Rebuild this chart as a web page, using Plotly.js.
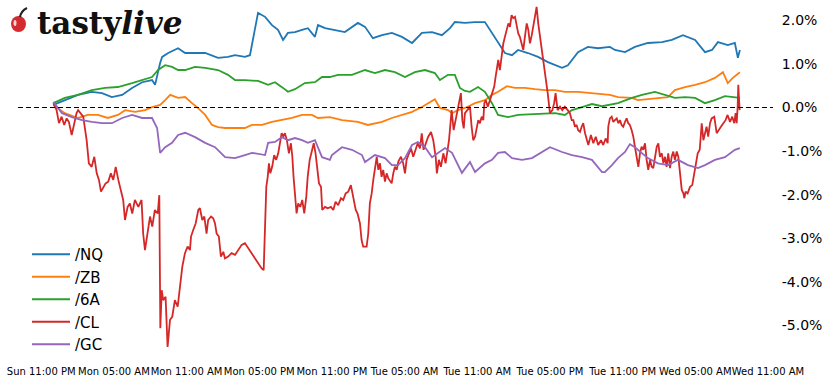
<!DOCTYPE html>
<html><head><meta charset="utf-8">
<script src="https://cdn.plot.ly/plotly-3.0.1.min.js"></script>
<style>html,body{margin:0;padding:0;background:#fff;} #chart{width:823px;height:382px;}</style>
</head><body><div id="chart"></div>
<script>
// time axis: minutes since Mon 00:00
const START_UTC = Date.UTC(2024, 2, 4, 0, 0, 0);
function t(m){ return new Date(START_UTC + m*60000).toISOString().slice(0,19).replace('T',' '); }

const SERIES_NAMES = ['/NQ','/ZB','/6A','/CL','/GC'];
const SERIES_COLORS = ['#1f77b4','#ff7f0e','#2ca02c','#d62728','#9467bd'];

const X_TICK_LABELS = ['Sun 11:00 PM','Mon 05:00 AM','Mon 11:00 AM','Mon 05:00 PM','Mon 11:00 PM','Tue 05:00 AM','Tue 11:00 AM','Tue 05:00 PM','Tue 11:00 PM','Wed 05:00 AM','Wed 11:00 AM'];
const X_TICK_MIN = [-60,300,660,1020,1380,1740,2100,2460,2820,3180,3540];
const Y_TICKS = [-5,-4,-3,-2,-1,0,1,2];
const Y_TICK_TEXT = ['-5.0%','-4.0%','-3.0%','-2.0%','-1.0%','0.0%','1.0%','2.0%'];

const NQ_MIN = [0,57,122,191,241,290,341,390,440,489,504,529,539,569,618,653,752,816,865,900,949,974,1014,1049,1083,1113,1138,1162,1197,1232,1261,1296,1311,1346,1395,1444,1509,1544,1583,1628,1677,1727,1777,1826,1876,1925,1965,1989,2039,2089,2138,2173,2203,2237,2272,2302,2351,2401,2450,2520,2549,2599,2648,2698,2757,2782,2832,2881,2945,3015,3064,3119,3179,3228,3263,3292,3341,3376,3391,3401];
const NQ_VAL = [0.06,0.17,0.29,0.36,0.33,0.24,0.29,0.45,0.58,0.63,0.52,1.02,1.16,1.25,1.36,1.25,1.25,1.14,1.16,1.20,1.16,1.20,2.17,2.08,1.89,1.78,1.55,1.71,1.73,1.78,1.82,1.62,1.89,1.82,1.78,1.73,1.94,1.85,1.59,1.66,1.71,1.62,1.48,1.71,1.73,1.66,1.82,1.96,1.94,1.96,1.96,1.71,1.48,1.25,1.20,1.32,1.25,1.16,1.04,0.91,0.97,1.27,1.39,1.36,1.39,1.32,1.27,1.39,1.48,1.50,1.55,1.66,1.55,1.27,1.32,1.50,1.43,1.48,1.14,1.32];

const ZB_MIN = [0,57,122,171,221,270,320,356,405,454,489,529,554,579,618,653,687,716,752,786,816,851,900,949,984,1034,1083,1133,1182,1232,1281,1311,1370,1430,1509,1558,1628,1677,1727,1777,1826,1866,1890,1915,1955,1975,2004,2039,2089,2138,2173,2203,2247,2287,2336,2386,2435,2485,2534,2599,2668,2757,2797,2866,2896,2945,2995,3045,3079,3129,3179,3228,3277,3317,3341,3366,3401];
const ZB_VAL = [0.06,-0.13,-0.24,-0.17,-0.17,-0.24,-0.17,-0.06,-0.10,-0.06,0.01,0.06,0.17,0.29,0.22,0.24,0.10,-0.01,-0.17,-0.40,-0.45,-0.47,-0.47,-0.47,-0.40,-0.40,-0.33,-0.29,-0.24,-0.17,-0.17,-0.24,-0.22,-0.29,-0.33,-0.40,-0.33,-0.24,-0.17,-0.10,0.01,0.13,0.19,-0.01,-0.06,-0.13,-0.06,-0.01,0.10,0.17,0.29,0.36,0.49,0.45,0.45,0.42,0.40,0.40,0.36,0.36,0.33,0.29,0.24,0.22,0.17,0.19,0.22,0.24,0.40,0.47,0.52,0.58,0.68,0.81,0.56,0.68,0.81];

const A6_MIN = [0,57,122,191,256,320,390,440,489,519,554,588,618,653,702,752,816,865,900,949,1014,1064,1098,1138,1162,1197,1246,1296,1331,1370,1410,1479,1544,1593,1643,1692,1742,1791,1841,1890,1915,1955,1989,2014,2039,2064,2104,2138,2173,2203,2252,2302,2371,2435,2485,2534,2569,2619,2668,2718,2797,2866,2916,2980,3030,3079,3129,3179,3228,3277,3327,3376,3401];
const A6_VAL = [0.10,0.22,0.29,0.40,0.45,0.47,0.56,0.63,0.70,0.86,0.97,0.93,0.86,0.86,0.93,0.91,0.86,0.75,0.63,0.63,0.61,0.52,0.58,0.45,0.36,0.42,0.56,0.58,0.70,0.70,0.75,0.75,0.86,0.79,0.86,0.81,0.70,0.81,0.86,0.79,0.63,0.75,0.75,0.45,0.38,0.36,0.47,0.36,0.10,-0.17,-0.22,-0.17,-0.15,-0.13,-0.13,-0.17,-0.06,0.01,0.08,0.03,0.10,0.22,0.29,0.36,0.29,0.22,0.24,0.22,0.10,0.17,0.26,0.24,0.22];

const GC_MIN = [0,43,92,142,191,241,290,341,390,440,489,514,529,554,588,618,653,702,752,801,851,900,949,984,1049,1064,1098,1133,1162,1197,1232,1261,1296,1331,1370,1380,1430,1479,1529,1544,1593,1643,1677,1707,1742,1777,1806,1841,1876,1905,1940,1975,2004,2024,2064,2089,2138,2173,2203,2237,2272,2322,2371,2421,2460,2520,2569,2619,2668,2718,2732,2767,2797,2832,2856,2881,2916,2945,2995,3045,3094,3144,3193,3228,3277,3327,3376,3401];
const GC_VAL = [0.13,-0.13,-0.22,-0.29,-0.33,-0.36,-0.36,-0.24,-0.17,-0.24,-0.24,-0.47,-1.04,-0.91,-0.81,-0.63,-0.58,-0.68,-0.81,-0.91,-1.14,-1.16,-1.09,-1.04,-1.09,-0.81,-0.79,-0.68,-0.75,-0.70,-0.75,-0.81,-0.75,-1.14,-1.20,-1.09,-0.91,-0.97,-1.09,-1.25,-1.09,-1.16,-1.32,-1.32,-1.16,-0.86,-0.79,-0.91,-1.14,-1.04,-0.93,-1.04,-1.32,-1.50,-1.25,-1.48,-1.28,-1.20,-1.04,-1.02,-1.16,-1.20,-1.16,-1.02,-0.91,-1.02,-1.09,-1.14,-1.20,-1.48,-1.48,-1.32,-1.16,-1.02,-0.84,-0.91,-1.04,-1.16,-1.28,-1.32,-1.20,-1.32,-1.39,-1.32,-1.20,-1.14,-0.97,-0.93];

// /CL as [minute, % change] pairs
const CL_PTS = [[0,0.10],[16,-0.06],[28,-0.36],[41,-0.21],[54,-0.40],[66,-0.25],[77,-0.33],[91,-0.63],[104,-0.36],[115,-0.13],[123,-0.06],[137,-0.13],[148,-0.21],[165,-0.75],[176,-1.28],[190,-1.36],[203,-1.13],[215,-1.51],[226,-1.66],[236,-1.93],[247,-1.82],[259,-1.74],[272,-1.70],[285,-1.51],[297,-1.66],[309,-1.36],[322,-1.66],[335,-1.89],[346,-2.12],[355,-2.58],[368,-2.28],[379,-2.20],[391,-2.43],[404,-2.12],[421,-2.28],[437,-2.12],[445,-2.89],[454,-3.27],[467,-2.81],[479,-2.50],[490,-2.73],[503,-2.35],[517,-2.43],[525,-2.01],[530,-5.06],[537,-4.19],[544,-4.42],[556,-4.34],[566,-5.49],[578,-4.87],[589,-4.80],[602,-4.42],[616,-4.57],[627,-4.19],[639,-3.65],[652,-3.34],[665,-3.19],[677,-3.27],
[682,-2.96],[693,-2.81],[705,-2.66],[718,-2.35],[726,-2.31],[738,-2.58],[748,-2.50],[759,-2.89],[767,-2.58],[781,-2.50],[792,-2.54],[801,-2.66],[809,-2.89],[820,-2.96],[830,-3.42],[842,-3.31],[850,-3.46],[866,-3.42],[883,-3.34],[900,-3.38],[916,-3.27],[933,-3.15],[949,-3.11],[966,-3.23],[982,-3.34],[999,-3.46],[1015,-3.57],[1032,-3.69],[1042,-3.73],[1048,-2.89],[1055,-1.82],[1062,-1.59],[1068,-1.28],[1075,-1.51],[1084,-1.36],[1094,-1.09],[1104,-1.20],[1114,-1.05],[1123,-0.82],[1131,-0.59],[1139,-0.67],[1147,-0.59],[1157,-0.75],[1167,-1.05],[1177,-0.82],[1184,-1.13],[1190,-1.59],[1197,-1.97],[1205,-2.43],[1213,-2.20],[1223,-2.28],[1233,-2.12],[1243,-2.43],[1253,-2.05],[1260,-1.59],[1270,-1.20],[1280,-0.97],[1290,-0.82],[1299,-1.05],[1309,-1.43],[1316,-1.74],[1326,-1.82],[1332,-2.35],[1346,-2.28],[1359,-2.31],
[1375,-2.28],[1387,-2.35],[1398,-2.16],[1411,-2.24],[1425,-2.08],[1436,-2.12],[1448,-1.97],[1461,-1.93],[1474,-1.78],[1486,-2.05],[1498,-2.35],[1507,-2.43],[1519,-2.66],[1527,-3.04],[1535,-3.19],[1552,-3.19],[1560,-2.89],[1568,-2.20],[1577,-1.97],[1585,-1.66],[1593,-1.36],[1602,-1.13],[1610,-1.43],[1618,-1.28],[1626,-1.59],[1634,-1.43],[1643,-1.70],[1651,-1.51],[1659,-1.62],[1668,-1.70],[1676,-1.74],[1684,-1.51],[1692,-1.36],[1701,-1.43],[1709,-1.24],[1722,-1.13],[1733,-1.28],[1742,-1.51],[1750,-1.20],[1762,-1.05],[1772,-0.94],[1783,-1.13],[1791,-1.01],[1805,-0.82],[1816,-0.94],[1825,-0.59],[1834,-0.97],[1844,-0.82],[1857,-0.67],[1871,-0.56],[1882,-0.75],[1894,-1.13],[1900,-1.51],[1910,-1.20],[1920,-1.36],[1932,-1.05],[1943,-1.28],[1953,-0.97],[1960,-0.75],[1966,-0.44],[1973,-0.06],[1983,-0.52],[1993,-0.29],[2003,-0.06],[2013,0.17],[2019,0.33],[2026,-0.29],[2033,-0.48],[2039,-0.13],[2052,-0.06],[2064,0.02],
[2072,-0.44],[2080,-0.75],[2089,-0.67],[2097,-0.44],[2105,-0.29],[2113,-0.36],[2122,-0.21],[2130,-0.29],[2135,0.10],[2142,0.17],[2152,0.02],[2163,0.17],[2174,0.33],[2184,0.48],[2191,0.71],[2198,0.94],[2204,1.09],[2212,0.86],[2221,1.24],[2229,1.47],[2237,1.62],[2246,1.78],[2254,1.93],[2262,1.85],[2270,2.12],[2278,2.05],[2287,2.08],[2295,1.89],[2303,1.70],[2311,1.62],[2320,1.47],[2328,1.32],[2336,1.62],[2345,1.93],[2353,1.78],[2361,1.47],[2370,1.66],[2377,1.85],[2386,2.08],[2394,2.31],[2402,1.93],[2419,1.39],[2435,0.78],[2449,0.33],[2460,-0.13],[2472,-0.06],[2481,0.10],[2488,0.33],[2498,-0.06],[2510,0.02],[2521,-0.06],[2534,0.02],[2548,-0.06],[2559,-0.13],[2568,-0.29],[2576,-0.29],[2584,-0.44],[2592,-0.40],[2600,-0.52],[2609,-0.56],[2617,-0.44],[2625,-0.36],[2634,-0.59],[2642,-0.75],[2650,-0.86],[2663,-0.63],[2675,-0.82],[2687,-0.67],[2699,-0.86],[2713,-0.75],[2724,-0.86],[2736,-0.71],[2746,-0.82],
[2749,-0.44],[2757,-0.25],[2766,-0.21],[2774,-0.33],[2782,-0.29],[2791,-0.25],[2799,-0.36],[2807,-0.29],[2815,-0.40],[2823,-0.44],[2832,-0.33],[2840,-0.25],[2848,-0.36],[2856,-0.40],[2865,-0.52],[2873,-0.67],[2881,-0.90],[2890,-1.13],[2898,-1.36],[2906,-1.05],[2914,-0.90],[2922,-0.97],[2931,-0.82],[2939,-1.20],[2947,-1.43],[2956,-1.20],[2964,-1.36],[2972,-1.39],[2980,-1.13],[2989,-0.90],[2997,-0.82],[3005,-1.13],[3014,-1.05],[3022,-1.28],[3030,-1.13],[3038,-1.36],[3046,-1.05],[3055,-1.39],[3063,-1.13],[3071,-1.01],[3079,-1.20],[3088,-1.01],[3096,-1.13],[3104,-1.51],[3113,-1.89],[3121,-1.97],[3126,-2.08],[3132,-1.93],[3142,-1.97],[3154,-1.82],[3165,-1.78],[3175,-1.51],[3182,-1.28],[3192,-1.05],[3202,-0.97],[3212,-0.36],[3220,-0.75],[3228,-0.59],[3236,-0.44],[3244,-0.67],[3253,-0.36],[3261,-0.25],[3274,-0.21],[3286,-0.59],[3294,-0.52],[3307,-0.44],[3319,-0.36],[3330,-0.29],[3340,-0.17],[3352,-0.33],[3363,-0.21],[3373,-0.36],[3380,-0.13],[3385,-0.36],[3390,0.02],[3393,0.52],[3396,0.25],[3400,-0.06]];

const CL_MIN = CL_PTS.map(p => p[0]);
const CL_VAL = CL_PTS.map(p => p[1]);

const seriesX = [NQ_MIN, ZB_MIN, A6_MIN, CL_MIN, GC_MIN];
const seriesY = [NQ_VAL, ZB_VAL, A6_VAL, CL_VAL, GC_VAL];

const traces = SERIES_NAMES.map((name, i) => ({
  type: 'scatter', mode: 'lines', name: name,
  x: seriesX[i].map(t), y: seriesY[i],
  line: {color: SERIES_COLORS[i], width: 1.8},
  hoverinfo: 'skip'
}));

// paper helpers for logo decoration (plot area: x 18..773 px, y 0..361 px)
function px(x){ return (x - 18) / 755; }
function py(y){ return (361 - y) / 361; }

const layout = {
  width: 823, height: 382,
  margin: {l: 18, r: 50, t: 0, b: 21, pad: 0},
  paper_bgcolor: '#fff', plot_bgcolor: '#fff',
  font: {family: 'DejaVu Sans', color: '#000'},
  showlegend: true,
  xaxis: {
    type: 'date', range: [t(-175), t(3565)],
    tickvals: X_TICK_MIN.map(t), ticktext: X_TICK_LABELS,
    tickangle: 0, showgrid: false, zeroline: false, showline: false, ticks: '',
    ticklabelstandoff: 3,
    tickfont: {size: 10, family: 'DejaVu Sans', color: '#000'}
  },
  yaxis: {
    side: 'right', range: [-5.814, 2.466],
    tickvals: Y_TICKS, ticktext: Y_TICK_TEXT,
    showgrid: false, zeroline: false, showline: false,
    ticks: 'outside', ticklen: 5, tickcolor: 'rgba(0,0,0,0)',
    tickfont: {size: 14, family: 'DejaVu Sans', color: '#000'}
  },
  legend: {
    x: px(27), y: py(238), xanchor: 'left', yanchor: 'top',
    bgcolor: 'rgba(255,255,255,0)', borderwidth: 0,
    font: {size: 15, family: 'DejaVu Sans', color: '#000'},
    itemwidth: 38
  },
  shapes: [
    {type: 'line', xref: 'paper', x0: 0, x1: 1, yref: 'y', y0: 0, y1: 0,
     line: {color: '#000', width: 1.2, dash: '5px,3px'}, layer: 'above'},
    {type: 'circle', xref: 'paper', yref: 'paper', x0: px(11), x1: px(26), y0: py(32), y1: py(16),
     fillcolor: '#d42a2f', line: {width: 0}},
    {type: 'circle', xref: 'paper', yref: 'paper', x0: px(13.5), x1: px(16.5), y0: py(26), y1: py(20),
     fillcolor: '#ffffff', opacity: 0.8, line: {width: 0}},
    {type: 'path', xref: 'paper', yref: 'paper',
     path: 'M' + px(20) + ',' + py(17) + ' Q' + px(21) + ',' + py(11) + ' ' + px(27) + ',' + py(8),
     line: {color: '#222', width: 2}}
  ],
  annotations: [
    {xref: 'paper', yref: 'paper', x: px(35), y: py(23), xanchor: 'left', yanchor: 'middle',
     text: '<b>tasty<i>live</i></b>', showarrow: false,
     font: {family: 'DejaVu Serif', size: 31, color: '#111'}}
  ]
};

Plotly.newPlot('chart', traces, layout, {displayModeBar: false, staticPlot: true});
</script>
</body></html>
